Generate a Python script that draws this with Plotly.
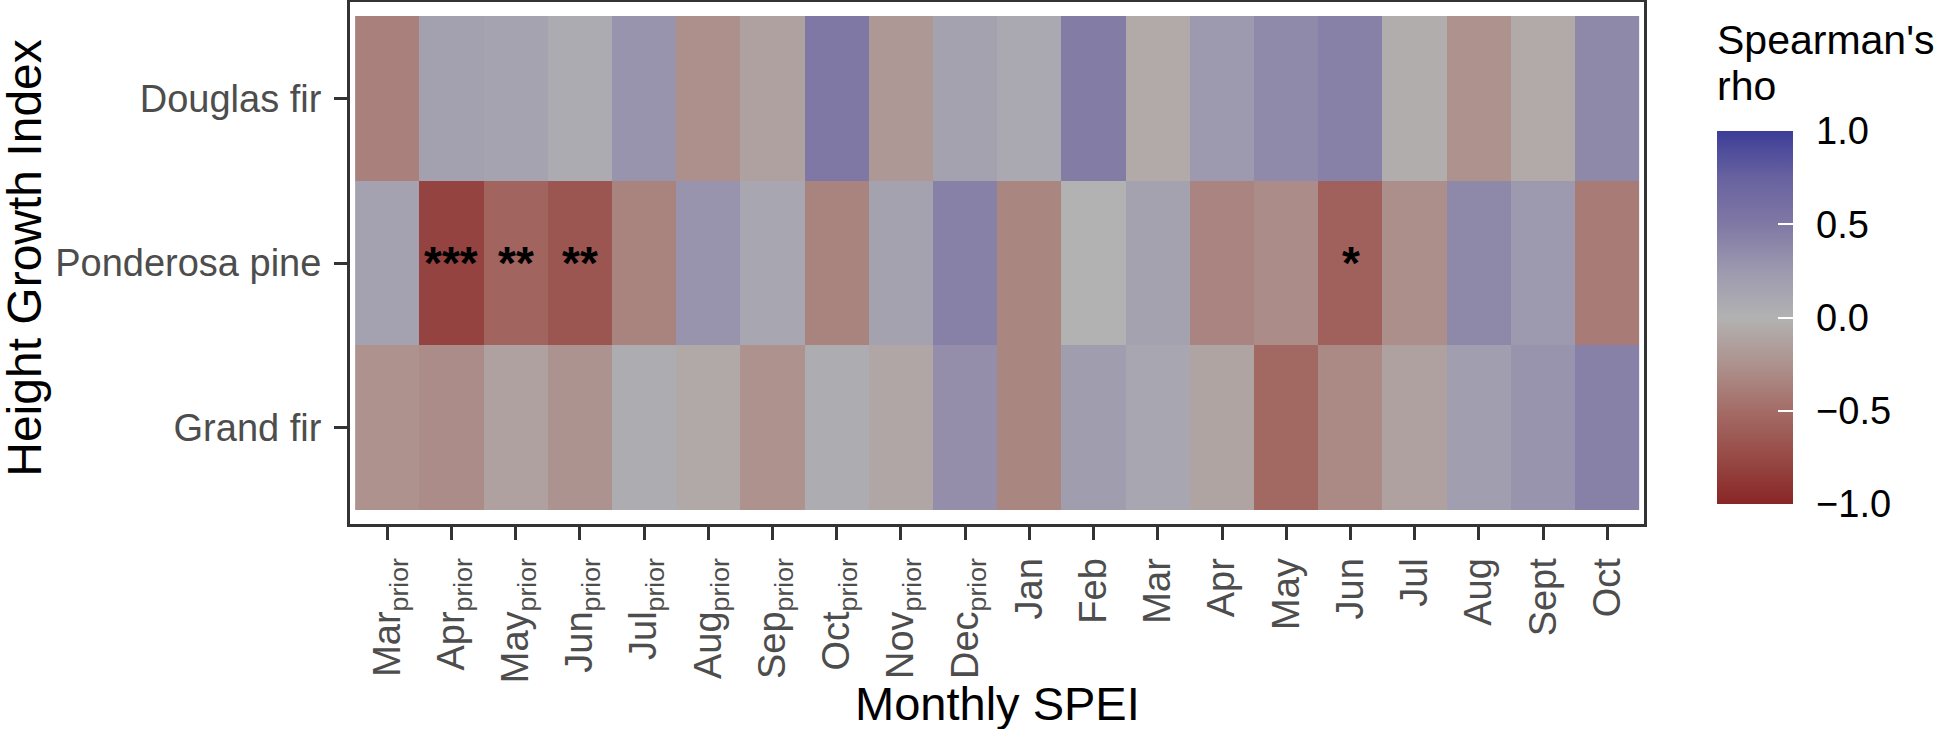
import plotly.graph_objects as go

# ---- data ----
month_labels = [
    "Mar<sub>prior</sub>", "Apr<sub>prior</sub>", "May<sub>prior</sub>", "Jun<sub>prior</sub>",
    "Jul<sub>prior</sub>", "Aug<sub>prior</sub>", "Sep<sub>prior</sub>", "Oct<sub>prior</sub>",
    "Nov<sub>prior</sub>", "Dec<sub>prior</sub>",
    "Jan", "Feb", "Mar", "Apr", "May", "Jun", "Jul", "Aug", "Sept", "Oct",
]
species = ["Grand fir", "Ponderosa pine", "Douglas fir"]  # bottom to top

rho_douglas_fir = [-0.37, 0.18, 0.15, 0.07, 0.29, -0.26, -0.13, 0.50, -0.20, 0.16,
                   0.09, 0.47, -0.06, 0.25, 0.36, 0.43, -0.04, -0.25, -0.06, 0.38]
rho_ponderosa_pine = [0.17, -0.80, -0.56, -0.66, -0.35, 0.29, 0.12, -0.35, 0.16, 0.44,
                      -0.33, 0.00, 0.16, -0.34, -0.29, -0.58, -0.27, 0.38, 0.25, -0.40]
rho_grand_fir = [-0.25, -0.29, -0.13, -0.24, 0.06, -0.07, -0.25, 0.06, -0.09, 0.33,
                 -0.33, 0.21, 0.12, -0.11, -0.53, -0.30, -0.13, 0.20, 0.29, 0.44]

sig_species = ["Ponderosa pine", "Ponderosa pine", "Ponderosa pine", "Ponderosa pine"]
sig_months = ["Apr<sub>prior</sub>", "May<sub>prior</sub>", "Jun<sub>prior</sub>", "Jun"]
sig_marks = ["***", "**", "**", "*"]

cbar_ticks = [-1.0, -0.5, 0.0, 0.5, 1.0]

x_title = "Monthly SPEI"
y_title = "Height Growth Index"
legend_title_lines = ["Spearman's", "rho"]

# ---- style ----
FONT = "Liberation Sans, Arial, Helvetica, sans-serif"
colorscale = [
    [0.000, "rgb(137,38,38)"],
    [0.125, "rgb(151,74,70)"],
    [0.250, "rgb(164,108,102)"],
    [0.375, "rgb(173,146,142)"],
    [0.500, "rgb(178,178,178)"],
    [0.625, "rgb(157,153,175)"],
    [0.750, "rgb(128,120,164)"],
    [0.875, "rgb(104,98,160)"],
    [1.000, "rgb(61,61,152)"],
]

W, H = 1945, 729
L, R, T, B = 350, 301, 2, 205
PW, PH = W - L - R, H - T - B


def px_x(px):
    return (px - L) / PW


def px_y(py):
    return (H - B - py) / PH


x_idx = list(range(len(month_labels)))
y_idx = list(range(len(species)))
z = [rho_grand_fir, rho_ponderosa_pine, rho_douglas_fir]

cbar_geom = dict(
    thickness=76, thicknessmode="pixels",
    len=373, lenmode="pixels",
    x=px_x(1717), xanchor="left", xpad=0,
    y=px_y(131), yanchor="top", ypad=0,
    tickvals=cbar_ticks, tickformat=".1f",
    outlinewidth=0,
)

fig = go.Figure()
# underlying (invisible) copy whose colourbar carries the tick labels
fig.add_trace(go.Heatmap(
    x=x_idx, y=y_idx, z=z, zmin=-1, zmax=1, colorscale=colorscale,
    opacity=0, hoverinfo="skip",
    colorbar=dict(
        **cbar_geom,
        ticks="outside", ticklen=16, tickcolor="rgba(0,0,0,0)",
        tickfont=dict(size=38, color="black", family=FONT),
    ),
))
# visible heatmap; its colourbar draws the white inner ticks on top
fig.add_trace(go.Heatmap(
    x=x_idx, y=y_idx, z=z, zmin=-1, zmax=1, colorscale=colorscale,
    colorbar=dict(
        **cbar_geom,
        ticks="inside", ticklen=15, tickcolor="white", tickwidth=2,
        showticklabels=False,
    ),
))

for sp, mo, mk in zip(sig_species, sig_months, sig_marks):
    fig.add_annotation(
        x=month_labels.index(mo), y=species.index(sp),
        text="<b>" + mk + "</b>", showarrow=False,
        font=dict(size=46, color="black", family=FONT),
    )

# colourbar title (two lines)
for line, cy in zip(legend_title_lines, [40, 86]):
    fig.add_annotation(
        xref="paper", yref="paper", x=px_x(1715), y=px_y(cy),
        xanchor="left", yanchor="middle", text=line, showarrow=False,
        font=dict(size=41, color="black", family=FONT),
    )

# axis titles
fig.add_annotation(
    xref="paper", yref="paper", x=0.5, y=px_y(703),
    xanchor="center", yanchor="middle", text=x_title, showarrow=False,
    font=dict(size=47, color="black", family=FONT),
)
fig.add_annotation(
    xref="paper", yref="paper", x=px_x(25), y=0.51,
    xanchor="center", yanchor="middle", text=y_title, showarrow=False,
    textangle=-90,
    font=dict(size=48, color="black", family=FONT),
)

axis_common = dict(
    showgrid=False, zeroline=False,
    showline=True, mirror=True, linecolor="#333333", linewidth=3,
    ticks="outside", ticklen=13, tickwidth=3, tickcolor="#333333",
)

fig.update_xaxes(
    **axis_common,
    tickmode="array", tickvals=x_idx, ticktext=month_labels,
    tickangle=-90, ticklabelstandoff=3,
    tickfont=dict(size=38, color="#4D4D4D", family=FONT),
    range=[-0.58, len(month_labels) - 0.43],
)
fig.update_yaxes(
    **axis_common,
    tickmode="array", tickvals=y_idx, ticktext=species,
    ticklabelstandoff=5,
    tickfont=dict(size=38, color="#4D4D4D", family=FONT),
    range=[-0.585, len(species) - 0.415],
)

fig.update_layout(
    width=W, height=H,
    margin=dict(l=L, r=R, t=T, b=B, autoexpand=False),
    plot_bgcolor="white", paper_bgcolor="white",
    font=dict(family=FONT),
)

fig.write_html("out.html", config={"displayModeBar": False},
               post_script="document.body.style.margin='0';")
